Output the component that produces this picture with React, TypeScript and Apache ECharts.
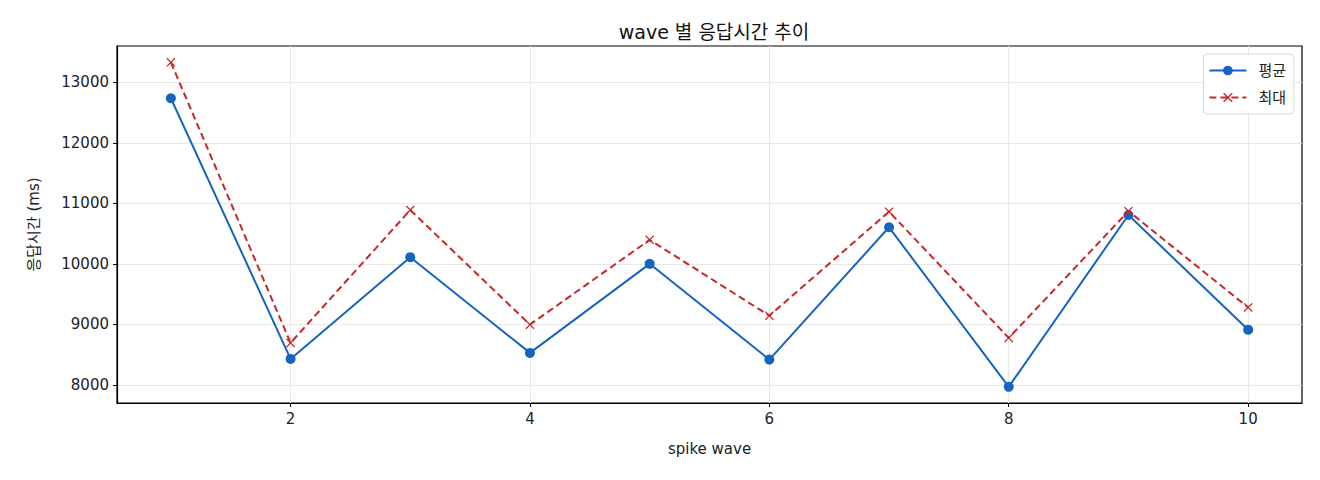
import React, { useEffect, useRef } from "react";
import * as echarts from "echarts";

const waves = [1, 2, 3, 4, 5, 6, 7, 8, 9, 10];
const avgMs = [12736, 8429, 10110, 8528, 10000, 8418, 10604, 7967, 10807, 8912];
const maxMs = [13330, 8693, 10890, 8995, 10396, 9143, 10862, 8776, 10870, 9280];
const xTicks = [2, 4, 6, 8, 10];
const yTicks = [8000, 9000, 10000, 11000, 12000, 13000];

const FONT = "'DejaVu Sans', 'Noto Sans CJK KR', sans-serif";
const CROSS = "path://M1,0L5,4L9,0L10,1L6,5L10,9L9,10L5,6L1,10L0,9L4,5L0,1Z";

const App: React.FC = () => {
    const chartRef = useRef<HTMLDivElement>(null);

    useEffect(() => {
        if (!chartRef.current) return;
        const chart = echarts.init(chartRef.current, null, { renderer: "svg" });

        const axisCommon = {
            axisLine: { show: true, lineStyle: { color: "#000", width: 1.2 } },
            axisTick: { show: true, length: 4, lineStyle: { color: "#000", width: 1 } },
            splitLine: { show: true, lineStyle: { color: "#e8e8e8", width: 1 } },
        };
        const labelStyle = { fontSize: 15, color: "#222", fontFamily: FONT };

        chart.setOption({
            animation: false,
            backgroundColor: "#fff",
            textStyle: { fontFamily: FONT },
            title: {
                text: "wave 별 응답시간 추이",
                left: 709,
                top: 17,
                textAlign: "center",
                textStyle: { fontSize: 19, fontWeight: "normal", color: "#111", fontFamily: FONT },
            },
            grid: {
                left: 117,
                right: 18,
                top: 46,
                bottom: 77,
                show: true,
                borderColor: "#000",
                borderWidth: 1.2,
                backgroundColor: "transparent",
            },
            legend: {
                orient: "vertical",
                right: 26,
                top: 54,
                padding: [9, 8, 9, 5],
                itemGap: 12,
                itemWidth: 37,
                itemHeight: 12,
                backgroundColor: "#fff",
                borderColor: "#d8d8d8",
                borderWidth: 1,
                borderRadius: 4,
                textStyle: { fontSize: 15, color: "#222", fontFamily: FONT, padding: [0, 0, 0, 7] },
                data: ["평균", "최대"],
            },
            xAxis: {
                type: "value",
                min: 0.55,
                max: 10.45,
                name: "spike wave",
                nameLocation: "middle",
                nameGap: 38,
                nameTextStyle: labelStyle,
                ...axisCommon,
                axisTick: { ...axisCommon.axisTick, customValues: xTicks },
                axisLabel: { ...labelStyle, customValues: xTicks, margin: 8 },
            },
            yAxis: {
                type: "value",
                min: 7700,
                max: 13600,
                name: "응답시간 (ms)",
                nameLocation: "middle",
                nameGap: 76,
                nameTextStyle: labelStyle,
                ...axisCommon,
                axisTick: { ...axisCommon.axisTick, customValues: yTicks },
                axisLabel: {
                    ...labelStyle,
                    customValues: yTicks,
                    margin: 8,
                    formatter: (v: number) => String(v),
                },
            },
            series: [
                {
                    name: "평균",
                    type: "line",
                    data: waves.map((w, i) => [w, avgMs[i]]),
                    symbol: "circle",
                    symbolSize: 10,
                    lineStyle: { color: "#1565c0", width: 2 },
                    itemStyle: { color: "#1565c0" },
                    z: 2,
                },
                {
                    name: "최대",
                    type: "line",
                    data: waves.map((w, i) => [w, maxMs[i]]),
                    symbol: CROSS,
                    symbolSize: 9,
                    lineStyle: { color: "#c62828", width: 2, type: [7, 4] },
                    itemStyle: { color: "#c62828" },
                    z: 3,
                },
            ],
        });

        return () => {
            chart.dispose();
        };
    }, []);

    return (
        <div
            ref={chartRef}
            style={{ position: "absolute", left: 0, top: 0, width: 1320, height: 480 }}
        />
    );
};

export default App;
